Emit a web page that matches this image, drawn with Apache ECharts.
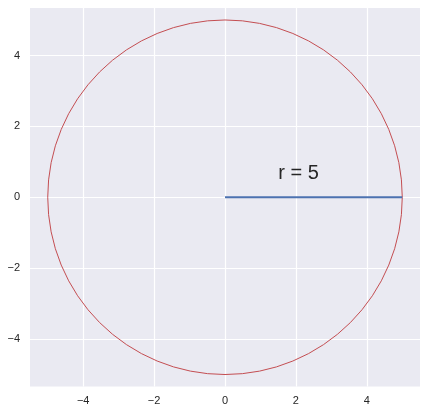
<!DOCTYPE html>
<html>
<head>
<meta charset="UTF-8">
<script src="https://cdn.jsdelivr.net/npm/echarts@6/dist/echarts.min.js"></script>
<style>html,body{margin:0;padding:0;background:#fff}</style>
</head>
<body>
<div id="main" style="width:427px;height:414px;"></div>
<script>
// circle: center and radius
var circleCenter = [0, 0]
var circleRadius = 5
// radius line
var radiusLine = [[0, 0], [5, 0]]
// annotation
var labelText = 'r = 5'
var labelPos = [1.5, 0.5]
// ticks
var xTicks = [-4, -2, 0, 2, 4]
var yTicks = [-4, -2, 0, 2, 4]

function fmt(v) {
	return v < 0 ? '\u2212' + Math.abs(v) : String(v)
}

var axisCommon = {
	type: 'value',
	axisLine: {show: false},
	axisTick: {show: false},
	splitLine: {show: true, lineStyle: {color: '#ffffff', width: 1.2}},
	axisLabel: {color: '#262626', fontSize: 11, fontFamily: 'Liberation Sans', formatter: fmt}
}

var myChart = echarts.init(document.getElementById('main'))
var option = {
	backgroundColor: '#ffffff',
	animation: false,
	grid: {left: 30, right: 7, top: 8, bottom: 27.5, containLabel: false, show: true, backgroundColor: '#EAEAF2', borderWidth: 0},
	xAxis: Object.assign({}, axisCommon, {
		min: -5.5, max: 5.5,
		axisTick: {show: false, customValues: xTicks},
		axisLabel: Object.assign({}, axisCommon.axisLabel, {customValues: xTicks, margin: 9})
	}),
	yAxis: Object.assign({}, axisCommon, {
		min: -5.34, max: 5.34,
		axisTick: {show: false, customValues: yTicks},
		axisLabel: Object.assign({}, axisCommon.axisLabel, {customValues: yTicks, margin: 10})
	}),
	series: [
		{
			type: 'custom',
			data: [[circleCenter[0], circleCenter[1], circleRadius]],
			renderItem: function (params, api) {
				var c = api.coord([api.value(0), api.value(1)])
				var r = api.size([api.value(2), 0])[0]
				return {
					type: 'circle',
					shape: {cx: c[0], cy: c[1], r: r},
					style: {fill: null, stroke: '#C44E52', lineWidth: 1}
				}
			},
			silent: true
		},
		{
			type: 'line',
			data: radiusLine,
			symbol: 'none',
			lineStyle: {color: '#4C72B0', width: 2},
			silent: true
		},
		{
			type: 'custom',
			data: [[labelPos[0], labelPos[1]]],
			renderItem: function (params, api) {
				var p = api.coord([api.value(0), api.value(1)])
				return {
					type: 'text',
					x: p[0], y: p[1] + 4,
					style: {
						text: labelText,
						fill: '#262626',
						fontSize: 20,
						fontFamily: 'Liberation Sans',
						align: 'left',
						verticalAlign: 'bottom'
					}
				}
			},
			silent: true
		}
	]
}
myChart.setOption(option)
</script>
</body>
</html>
